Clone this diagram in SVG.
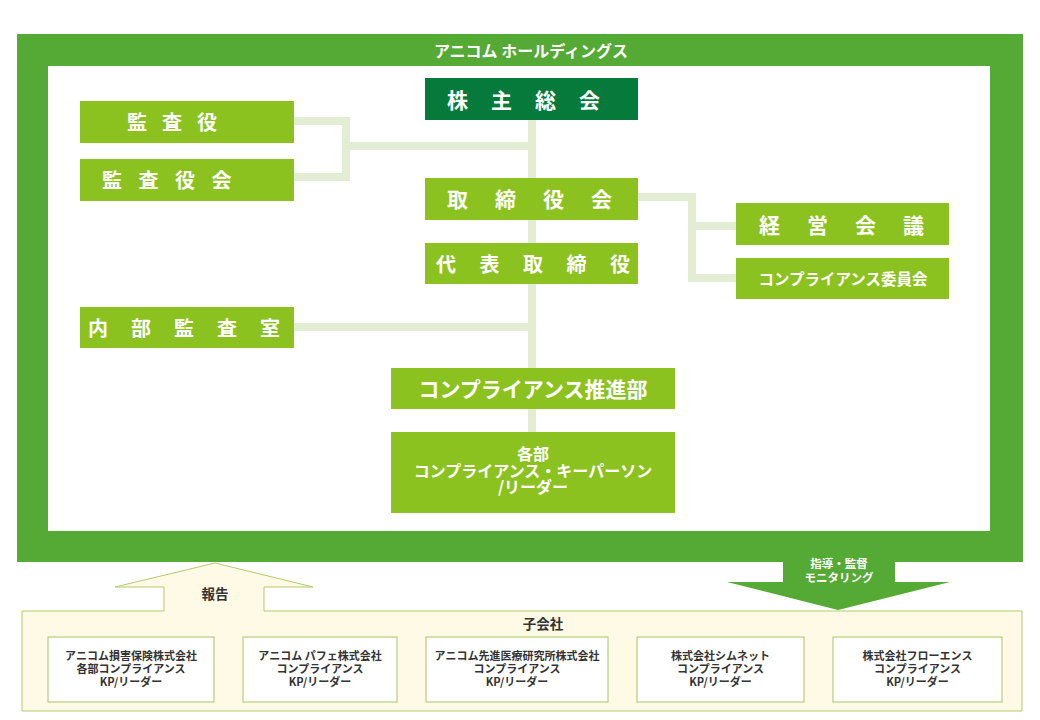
<svg xmlns="http://www.w3.org/2000/svg" width="1040" height="720" viewBox="0 0 1040 720">
<style>
.t{font-family:"Noto Sans CJK JP","Noto Sans",sans-serif;font-weight:bold;dominant-baseline:central}
.w{fill:#ffffff}
.d{fill:#333333}
.lg{fill:#8cc21f}
.dg{fill:#067a3b}
.conn{fill:none;stroke:#e3edd3;stroke-width:8}
.sub{fill:#ffffff;stroke:#a8c462;stroke-width:1}
</style>
<rect width="1040" height="720" fill="#ffffff"/>
<g id="frame">
<rect x="17" y="34" width="1006" height="528" fill="#55a935"/>
<rect x="48" y="66" width="942" height="465" fill="#ffffff"/>
<text class="t w" x="531" y="50" font-size="16" text-anchor="middle">アニコム ホールディングス</text>
</g>
<g id="connectors">
<path class="conn" d="M532 120 V432"/>
<path class="conn" d="M294 121 H346 V177 H294 M346 146 H532"/>
<path class="conn" d="M638 197 H692 V278 H736 M692 226 H736"/>
<path class="conn" d="M294 327 H532"/>
</g>
<g id="n-kabunushi">
<rect class="dg" x="425" y="78" width="213" height="42"/>
<text class="t w" x="447" y="98.5" font-size="21" letter-spacing="23">株主総会</text>
</g>
<g id="n-kansayaku">
<rect class="lg" x="80" y="101" width="214" height="42"/>
<text class="t w" x="127" y="121.5" font-size="20" letter-spacing="15">監査役</text>
</g>
<g id="n-kansayakukai">
<rect class="lg" x="80" y="159" width="214" height="42"/>
<text class="t w" x="102" y="179.5" font-size="20" letter-spacing="16.5">監査役会</text>
</g>
<g id="n-torishimariyakukai">
<rect class="lg" x="425" y="178" width="213" height="42"/>
<text class="t w" x="447" y="198" font-size="21" letter-spacing="27">取締役会</text>
</g>
<g id="n-daihyo">
<rect class="lg" x="425" y="243" width="213" height="41"/>
<text class="t w" x="436" y="263" font-size="20" letter-spacing="23.5">代表取締役</text>
</g>
<g id="n-naibukansa">
<rect class="lg" x="80" y="307" width="214" height="41"/>
<text class="t w" x="88" y="327" font-size="20" letter-spacing="23">内部監査室</text>
</g>
<g id="n-keiei">
<rect class="lg" x="736" y="203" width="213" height="42"/>
<text class="t w" x="759" y="223.5" font-size="21" letter-spacing="27">経営会議</text>
</g>
<g id="n-iinkai">
<rect class="lg" x="736" y="258" width="213" height="41"/>
<text class="t w" x="843" y="278" font-size="15.5" text-anchor="middle">コンプライアンス委員会</text>
</g>
<g id="n-suishin">
<rect class="lg" x="391" y="368" width="284" height="41"/>
<text class="t w" x="533" y="388" font-size="21" text-anchor="middle">コンプライアンス推進部</text>
</g>
<g id="n-kakubu">
<rect class="lg" x="391" y="432" width="284" height="81"/>
<text class="t w" font-size="16" text-anchor="middle"><tspan x="533" y="453">各部</tspan><tspan x="533" y="469.5">コンプライアンス・キーパーソン</tspan><tspan x="533" y="486">/リーダー</tspan></text>
</g>
<g id="n-kogaisha">
<path d="M22 611 H164 V587 H115 L215 563 L313 587 H264 V611 H1022 V711 H22 Z" fill="#fefae6" stroke="#b3cb6a" stroke-width="1"/>
<text class="t d" x="215" y="593" font-size="13.5" text-anchor="middle">報告</text>
<text class="t d" x="543" y="623" font-size="13.5" text-anchor="middle">子会社</text>
</g>
<g id="arrow-shido">
<polygon points="783,562 895,562 895,582 950,582 838,610 727,582 783,582" fill="#55a935"/>
<text class="t w" x="839" y="563" font-size="11.5" text-anchor="middle">指導・監督</text>
<text class="t w" x="839" y="577" font-size="11.5" text-anchor="middle">モニタリング</text>
</g>
<g id="s1">
<rect class="sub" x="48" y="637" width="166" height="65"/>
<text class="t d" font-size="11" text-anchor="middle"><tspan x="131" y="655">アニコム損害保険株式会社</tspan><tspan x="131" y="668">各部コンプライアンス</tspan><tspan x="131" y="681">KP/リーダー</tspan></text>
</g>
<g id="s2">
<rect class="sub" x="243" y="637" width="154" height="65"/>
<text class="t d" font-size="11" text-anchor="middle"><tspan x="320" y="655">アニコム パフェ株式会社</tspan><tspan x="320" y="668">コンプライアンス</tspan><tspan x="320" y="681">KP/リーダー</tspan></text>
</g>
<g id="s3">
<rect class="sub" x="426" y="637" width="182" height="65"/>
<text class="t d" font-size="11" text-anchor="middle"><tspan x="517" y="655">アニコム先進医療研究所株式会社</tspan><tspan x="517" y="668">コンプライアンス</tspan><tspan x="517" y="681">KP/リーダー</tspan></text>
</g>
<g id="s4">
<rect class="sub" x="637" y="637" width="167" height="65"/>
<text class="t d" font-size="11" text-anchor="middle"><tspan x="720.5" y="655">株式会社シムネット</tspan><tspan x="720.5" y="668">コンプライアンス</tspan><tspan x="720.5" y="681">KP/リーダー</tspan></text>
</g>
<g id="s5">
<rect class="sub" x="833" y="637" width="169" height="65"/>
<text class="t d" font-size="11" text-anchor="middle"><tspan x="917.5" y="655">株式会社フローエンス</tspan><tspan x="917.5" y="668">コンプライアンス</tspan><tspan x="917.5" y="681">KP/リーダー</tspan></text>
</g>
</svg>
